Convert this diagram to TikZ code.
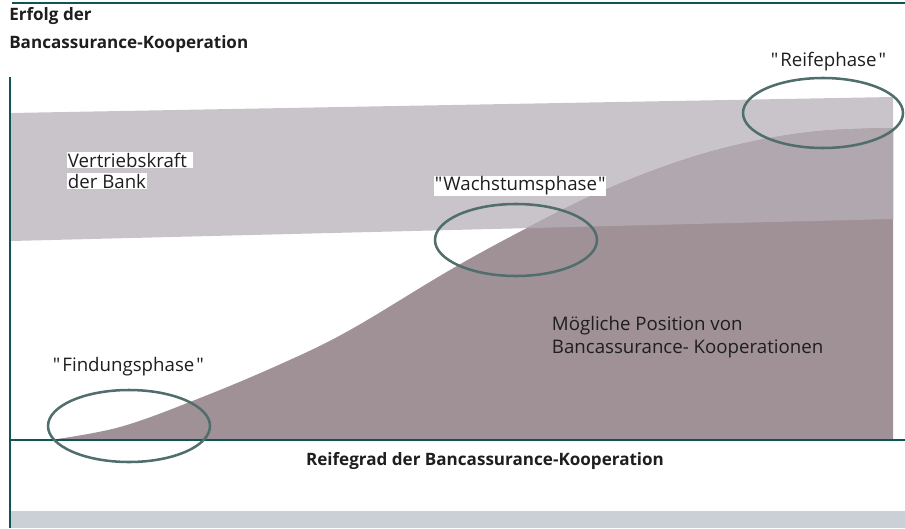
\documentclass[tikz,border=0pt]{standalone}
\usepackage{fontspec}
\setmainfont{Open Sans}
\font\lblfont="Open Sans" at 14pt
\newcommand{\dq}{\char34\relax}
\begin{document}
\begin{tikzpicture}[x=0.75pt,y=-0.75pt,
  axis/.style={draw=axisc},
  phase/.style={draw=ellc,line width=1.9pt},
  lbl/.style={font=\lblfont,text=txt,inner sep=0.5pt,anchor=west},
  wlbl/.style={lbl,fill=white},
  ttl/.style={font=\fontsize{12.8}{15}\selectfont\bfseries,text=txt,inner sep=0pt,anchor=west,align=left}]
\definecolor{axisc}{HTML}{0E5555}
\definecolor{ellc}{HTML}{4F6E6C}
\definecolor{bandc}{HTML}{C9C4CA}
\definecolor{darkc}{HTML}{A09196}
\definecolor{midc}{HTML}{B1A7AE}
\definecolor{botc}{HTML}{CBCFD6}
\definecolor{txt}{HTML}{1E1E1E}
\useasboundingbox (0,0) rectangle (905,528);
% top rule
\draw[axisc,line width=0.9pt] (12,3) -- (905,3);
% bottom band
\fill[botc] (11,511) rectangle (905,528);
% light band
\fill[bandc] (11,113) -- (893,97) -- (893,219) -- (11,241) -- cycle;
% dark area
\def\curve{plot[smooth,tension=0.6] coordinates {(50,440) (120,427) (200,398) (283,363) (350,330) (450,270) (527,228) (600,192) (680,161) (750,142) (820,131) (893,128)}}
\fill[darkc] \curve -- (893,440) -- cycle;
\begin{scope}
\clip (11,113) -- (893,97) -- (893,219) -- (11,241) -- cycle;
\fill[midc] \curve -- (893,440) -- cycle;
\end{scope}
% axes
\coordinate (ytop) at (10,77);
\coordinate (ybot) at (10,528);
\coordinate (xl) at (10,440);
\coordinate (xr) at (905,440);
\draw[axis,line width=1.5pt] (ytop) -- (ybot);
\draw[axis,line width=1.1pt] (xl) -- (xr);
% ellipses
\draw[phase] (129,426) ellipse [x radius=81, y radius=36];
\draw[phase] (516,240) ellipse [x radius=81, y radius=36];
\draw[phase] (823,113) ellipse [x radius=80, y radius=35];
% labels
\node[ttl] (t1) at (9,16) {Erfolg der};
\node[ttl] (t2) at (9,44) {Bancassurance-Kooperation};
\node[ttl,anchor=center] (xt) at (485,461) {Reifegrad der Bancassurance-Kooperation};
\node[wlbl] (v1) at (67,160) {Vertriebskraft\kern4pt};
\node[wlbl] (v2) at (67,181) {der Bank};
\node[wlbl] (w) at (434,186) {\dq\kern0.8pt Wachstumsphase\kern0.8pt\dq};
\node[lbl] (r) at (770,62) {\dq\kern1.5pt Reifephase\kern1.5pt\dq};
\node[lbl] (f) at (52,367) {\dq\kern1.5pt Findungsphase\kern1.5pt\dq};
\node[lbl] (m1) at (551,326) {Mögliche Position von};
\node[lbl] (m2) at (551,349) {Bancassurance- Kooperationen};
\end{tikzpicture}
\end{document}
